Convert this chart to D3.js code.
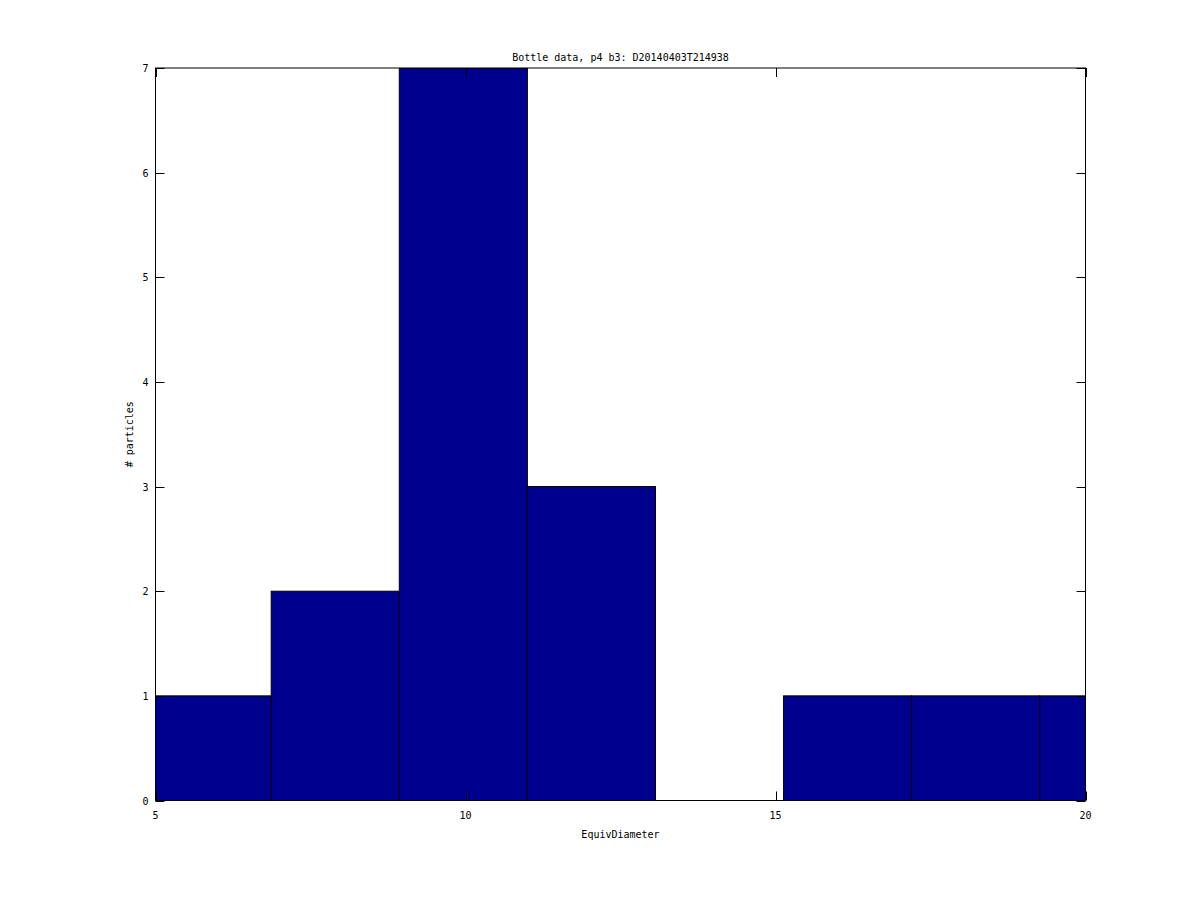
<!DOCTYPE html>
<html><head><meta charset="utf-8">
<script src="https://cdn.jsdelivr.net/npm/d3@7"></script>
<style>body{margin:0;background:#fff;}svg{display:block;}text{font-family:"DejaVu Sans Mono",monospace;font-size:10px;fill:#000;}</style>
</head><body>
<script>
const binEdges = [4.80, 6.866, 8.932, 10.998, 13.064, 15.13, 17.196, 19.262, 21.328];
const counts = [1, 2, 7, 3, 0, 1, 1, 1];
const xTicks = [5, 10, 15, 20];
const yTicks = [0, 1, 2, 3, 4, 5, 6, 7];
const title = "Bottle data, p4 b3: D20140403T214938";
const xLabel = "EquivDiameter";
const yLabel = "# particles";

const W = 1200, H = 900;
const L = 155.5, R = 1085.5, T = 68, B = 800.5;
const svg = d3.select("body").append("svg").attr("width", W).attr("height", H);
const x = d3.scaleLinear().domain([5, 20]).range([L, R]);
const y = d3.scaleLinear().domain([0, 7]).range([B, T]);

svg.append("defs").append("clipPath").attr("id", "clip")
  .append("rect").attr("x", L).attr("y", T).attr("width", R - L).attr("height", B - T);

const bins = counts.map((c, i) => ({x0: binEdges[i], x1: binEdges[i + 1], c}));
svg.append("g").attr("clip-path", "url(#clip)").selectAll("rect").data(bins.filter(d => d.c > 0)).join("rect")
  .attr("x", d => x(d.x0)).attr("width", d => x(d.x1) - x(d.x0))
  .attr("y", d => y(d.c)).attr("height", d => y(0) - y(d.c))
  .attr("fill", "#00008F").attr("stroke", "#000").attr("stroke-width", 1);

svg.append("rect").attr("x", L).attr("y", T).attr("width", R - L).attr("height", B - T)
  .attr("fill", "none").attr("stroke", "#000").attr("stroke-width", 1);

const tl = 9;
const g = svg.append("g").attr("stroke", "#000").attr("stroke-width", 1);
xTicks.forEach(t => {
  const px = Math.round(x(t)) + 0.5;
  g.append("line").attr("x1", px).attr("x2", px).attr("y1", B).attr("y2", B - tl);
  g.append("line").attr("x1", px).attr("x2", px).attr("y1", T).attr("y2", T + tl);
});
yTicks.forEach(t => {
  const py = Math.round(y(t)) + 0.5;
  g.append("line").attr("x1", L).attr("x2", L + tl).attr("y1", py).attr("y2", py);
  g.append("line").attr("x1", R).attr("x2", R - tl).attr("y1", py).attr("y2", py);
});

svg.append("g").selectAll("text").data(xTicks).join("text")
  .attr("x", d => x(d)).attr("y", B + 18).attr("text-anchor", "middle").text(d => d);
svg.append("g").selectAll("text").data(yTicks).join("text")
  .attr("x", L - 7).attr("y", d => y(d) + 4).attr("text-anchor", "end").text(d => d);

svg.append("text").attr("x", (L + R) / 2).attr("y", 61).attr("text-anchor", "middle").text(title);
svg.append("text").attr("x", (L + R) / 2).attr("y", 838).attr("text-anchor", "middle").text(xLabel);
svg.append("text").attr("transform", `translate(133,${(T + B) / 2}) rotate(-90)`).attr("text-anchor", "middle").text(yLabel);
</script>
</body></html>
